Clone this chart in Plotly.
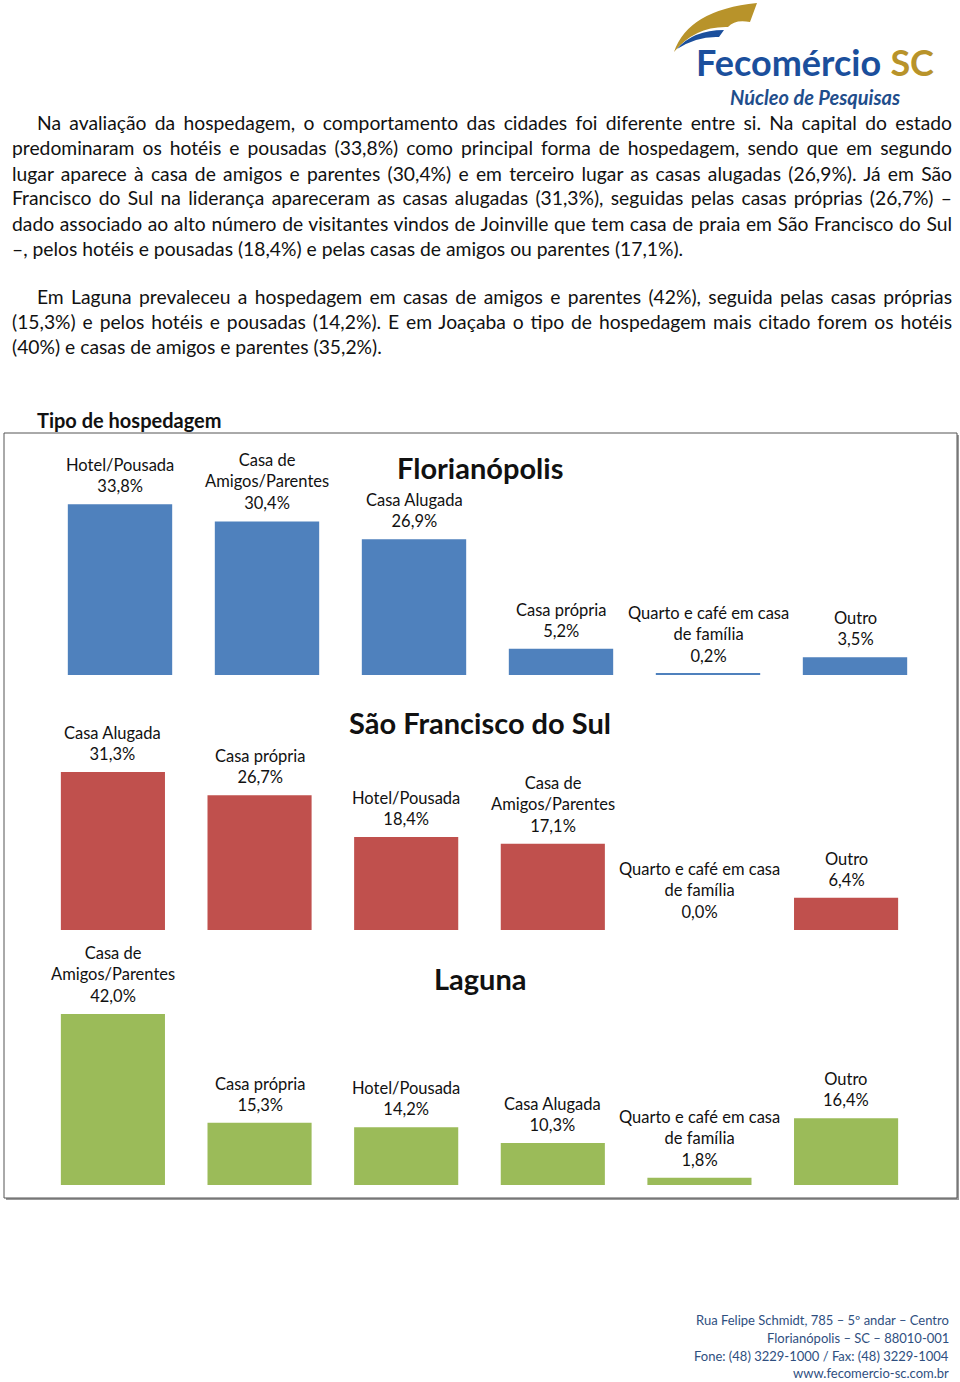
import json
import plotly.graph_objects as go

W, H = 960, 1382

# ---------------- data ----------------
categories_floripa = ["Hotel/Pousada", "Casa de<br>Amigos/Parentes", "Casa Alugada",
                      "Casa própria", "Quarto e café em casa<br>de família", "Outro"]
values_floripa = [33.8, 30.4, 26.9, 5.2, 0.2, 3.5]

categories_sfs = ["Casa Alugada", "Casa própria", "Hotel/Pousada", "Casa de<br>Amigos/Parentes",
                  "Quarto e café em casa<br>de família", "Outro"]
values_sfs = [31.3, 26.7, 18.4, 17.1, 0.0, 6.4]

categories_laguna = ["Casa de<br>Amigos/Parentes", "Casa própria", "Hotel/Pousada", "Casa Alugada",
                     "Quarto e café em casa<br>de família", "Outro"]
values_laguna = [42.0, 15.3, 14.2, 10.3, 1.8, 16.4]

paragraph_lines = [
    "Na avaliação da hospedagem, o comportamento das cidades foi diferente entre si. Na capital do estado",
    "predominaram os hotéis e pousadas (33,8%) como principal forma de hospedagem, sendo que em segundo",
    "lugar aparece à casa de amigos e parentes (30,4%) e em terceiro lugar as casas alugadas (26,9%). Já em São",
    "Francisco do Sul na liderança apareceram as casas alugadas (31,3%), seguidas pelas casas próprias (26,7%) –",
    "dado associado ao alto número de visitantes vindos de Joinville que tem casa de praia em São Francisco do Sul",
    "–, pelos hotéis e pousadas (18,4%) e pelas casas de amigos ou parentes (17,1%).",
    "Em Laguna prevaleceu a hospedagem em casas de amigos e parentes (42%), seguida pelas casas próprias",
    "(15,3%) e pelos hotéis e pousadas (14,2%). E em Joaçaba o tipo de hospedagem mais citado forem os hotéis",
    "(40%) e casas de amigos e parentes (35,2%).",
]
footer_lines = [
    "Rua Felipe Schmidt, 785 – 5º andar – Centro",
    "Florianópolis – SC – 88010-001",
    "Fone: (48) 3229-1000 / Fax: (48) 3229-1004",
    "www.fecomercio-sc.com.br",
]

# ---------------- helpers ----------------
def px(x):
    return x / W

def py(y):
    return 1 - y / H

FONT = "Lato, 'Open Sans', sans-serif"

fig = go.Figure()

# chart panels
panels = [
    (categories_floripa, values_floripa, "#4F81BD", "Florianópolis", 468, 46.5, 928.5, 675, 473, 40, 1),
    (categories_sfs, values_sfs, "#C0504D", "São Francisco do Sul", 722, 39.6, 919.4, 930, 728, 40, 2),
    (categories_laguna, values_laguna, "#9BBB59", "Laguna", 978, 39.6, 919.4, 1185, 981.5, 50, 3),
]

annotations = []
layout_axes = {}
for cats, vals, color, title, ty, xl, xr, yb, yt, ymax, i in panels:
    xa = "x" if i == 1 else f"x{i}"
    ya = "y" if i == 1 else f"y{i}"
    xs = list(range(len(vals)))
    fig.add_trace(go.Bar(
        x=xs, y=vals, marker=dict(color=color, line=dict(width=0)),
        width=0.71, xaxis=xa, yaxis=ya, showlegend=False, hoverinfo="skip",
    ))
    layout_axes["xaxis" if i == 1 else f"xaxis{i}"] = dict(
        domain=[px(xl), px(xr)], range=[-0.5, 5.5], visible=False,
        anchor=ya, fixedrange=True)
    layout_axes["yaxis" if i == 1 else f"yaxis{i}"] = dict(
        domain=[py(yb), py(yt)], range=[0, ymax], visible=False,
        anchor=xa, fixedrange=True)
    for xv, c, v in zip(xs, cats, vals):
        label = f"{c}<br>{v:.1f}%".replace(".", ",")
        annotations.append(dict(
            x=xv, y=v, xref=xa, yref=ya, text=label, showarrow=False,
            yanchor="bottom", yshift=6, align="center",
            font=dict(family=FONT, size=16.5, color="#111111")))
    annotations.append(dict(
        x=px(480), y=py(ty), xref="paper", yref="paper", text=f"<b>{title}</b>",
        showarrow=False, xanchor="center", yanchor="middle",
        font=dict(family=FONT, size=29, color="#111111")))

# paragraph text
para_y = [123, 148, 173, 198, 224, 249, 296, 321, 346]
para_x = [35, 10, 10, 10, 10, 10, 35, 10, 10]
justify = {}
for k, (t, yy, xx) in enumerate(zip(paragraph_lines, para_y, para_x)):
    annotations.append(dict(
        x=px(xx), y=py(yy), xref="paper", yref="paper", text=t, showarrow=False,
        xanchor="left", yanchor="middle", align="left",
        font=dict(family=FONT, size=19.3, color="#111111")))
    if k not in (5, 8):
        justify[t] = 950 - xx

# chart title
annotations.append(dict(
    x=px(35), y=py(420), xref="paper", yref="paper", text="<b>Tipo de hospedagem</b>",
    showarrow=False, xanchor="left", yanchor="middle",
    font=dict(family=FONT, size=20, color="#111111")))

# footer
for t, yy in zip(footer_lines, [1320, 1338, 1356, 1373]):
    annotations.append(dict(
        x=px(951), y=py(yy), xref="paper", yref="paper", text=t, showarrow=False,
        xanchor="right", yanchor="middle",
        font=dict(family=FONT, size=13, color="#2f4f7f")))

# logo text
annotations.append(dict(
    x=px(694), y=py(62), xref="paper", yref="paper",
    text="<b>Fecomércio</b> <b><span style='color:#B8932A'>SC</span></b>",
    showarrow=False, xanchor="left", yanchor="middle",
    font=dict(family=FONT, size=36, color="#1B4F9C")))
annotations.append(dict(
    x=px(902), y=py(97), xref="paper", yref="paper", text="<b><i>Núcleo de Pesquisas</i></b>",
    showarrow=False, xanchor="right", yanchor="middle",
    font=dict(family=FONT, size=20, color="#1F4E8C")))

def qpath(cmds):
    out = []
    for c, pts in cmds:
        out.append(c + " " + " ".join(f"{px(a)},{py(b)}" for a, b in pts))
    return " ".join(out) + " Z"

shapes = [
    # box shadow
    dict(type="rect", xref="paper", yref="paper", x0=px(6), x1=px(959), y0=py(1200), y1=py(435),
         line=dict(width=0), fillcolor="#9a9a9a", layer="below"),
    # box
    dict(type="rect", xref="paper", yref="paper", x0=px(4), x1=px(957), y0=py(1198), y1=py(433),
         line=dict(width=1, color="#555555"), fillcolor="white", layer="below"),
    # gold swoosh
    dict(type="path", xref="paper", yref="paper",
         path=qpath([("M", [(674, 52)]), ("Q", [(688, 10), (757, 3)]),
                     ("L", [(750, 22)]), ("Q", [(735, 19), (728, 27)]),
                     ("Q", [(695, 26), (674, 52)])]),
         line=dict(width=0), fillcolor="#B8932A"),
    # blue swoosh
    dict(type="path", xref="paper", yref="paper",
         path=qpath([("M", [(677, 49)]), ("Q", [(693, 30), (724, 30)]),
                     ("L", [(719, 37)]), ("Q", [(697, 36), (677, 49)])]),
         line=dict(width=0), fillcolor="#1B4F9C"),
]

fig.update_layout(
    width=W, height=H, margin=dict(l=0, r=0, t=0, b=0),
    paper_bgcolor="white", plot_bgcolor="rgba(0,0,0,0)",
    annotations=annotations, shapes=shapes, showlegend=False,
    **layout_axes,
)

post = """
document.body.style.margin = '0px';
document.body.style.padding = '0px';
var J = %s;
var gd = document.getElementById('{plot_id}');
var els = gd.querySelectorAll('.annotation-text');
els.forEach(function(el) {
  var t = el.textContent;
  if (Object.prototype.hasOwnProperty.call(J, t)) {
    var len = el.getComputedTextLength();
    var n = (t.match(/ /g) || []).length;
    if (n > 0 && J[t] > len) {
      el.style.wordSpacing = ((J[t] - len) / n) + 'px';
    }
  }
});
""" % json.dumps(justify, ensure_ascii=False)

fig.write_html("out.html", post_script=post, config={"displayModeBar": False})
